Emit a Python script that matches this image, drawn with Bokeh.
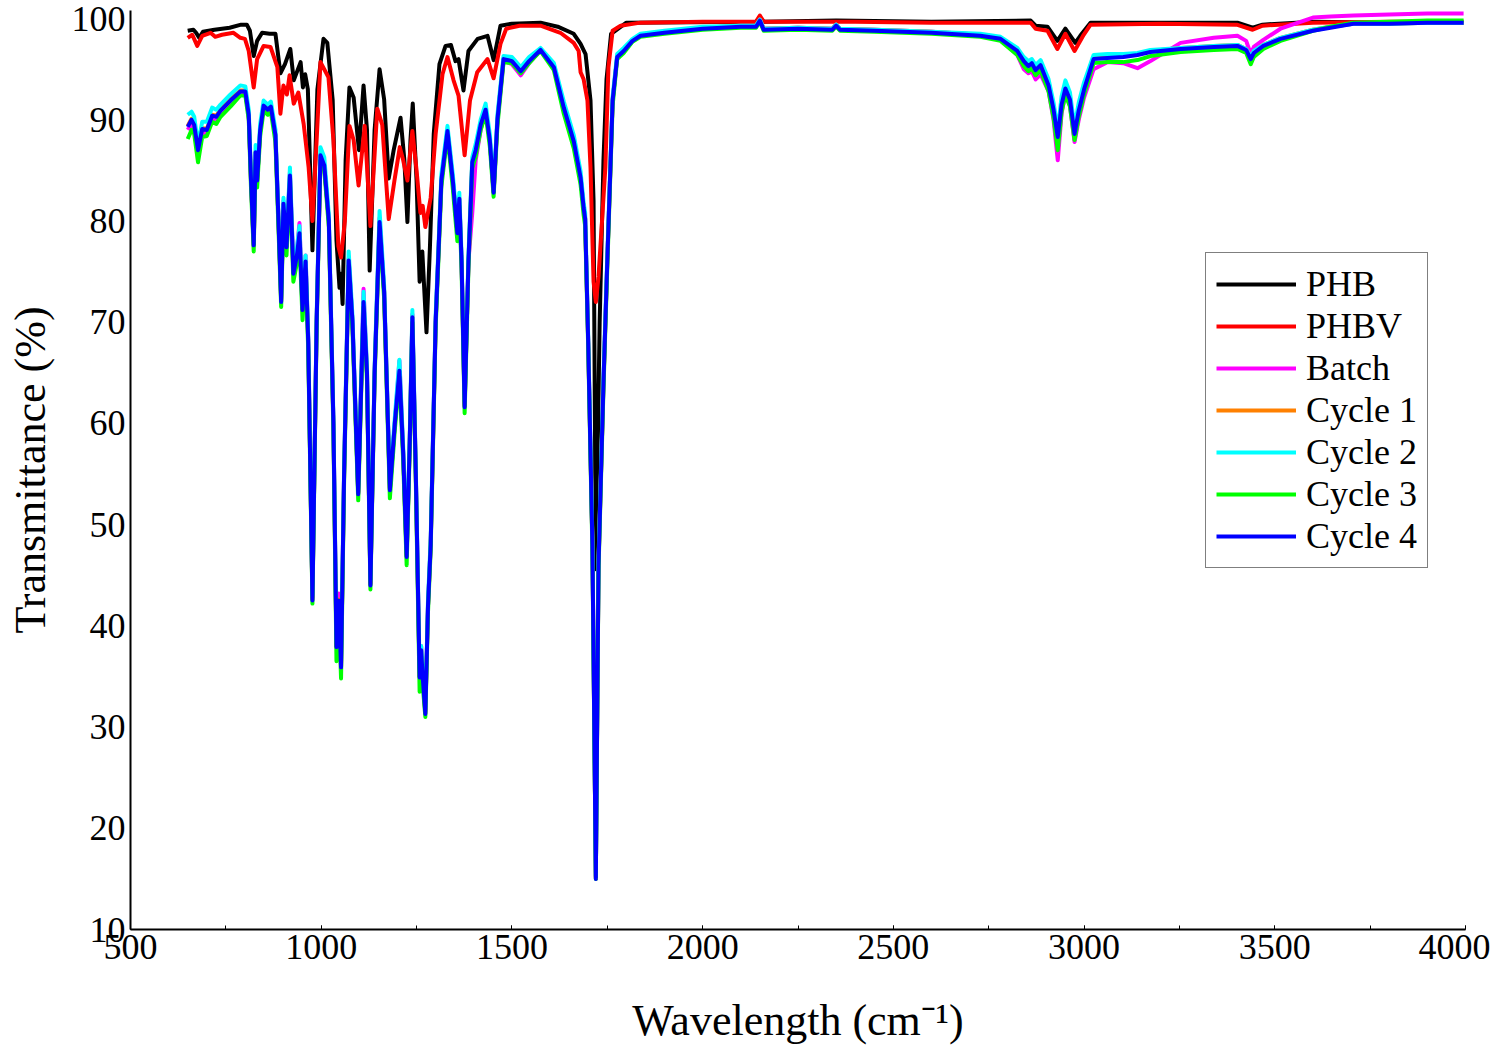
from bokeh.plotting import figure
from bokeh.models import Range1d, SingleIntervalTicker, Legend, LegendItem
from bokeh.embed import file_html
from bokeh.resources import INLINE

# ---------------- data ----------------
PHB_X = [650, 665, 672, 680, 690, 720, 760, 790, 805, 813,
         823, 832, 845, 865, 880, 893, 905, 919, 928, 946,
         952, 958, 965, 977, 990, 1006, 1016, 1030, 1040, 1048,
         1052, 1056, 1064, 1074, 1085, 1099, 1111, 1120, 1127, 1140,
         1153, 1165, 1177, 1190, 1208, 1218, 1226, 1234, 1240, 1250,
         1258, 1265, 1276, 1285, 1295, 1310, 1326, 1340, 1352, 1360,
         1373, 1386, 1410, 1436, 1452, 1470, 1500, 1575, 1620, 1662,
         1680, 1693, 1706, 1714, 1720, 1730, 1740, 1748, 1760, 1800,
         2140, 2150, 2160, 2350, 2600, 2860, 2873, 2904, 2930, 2951,
         2977, 2990, 3017, 3200, 3402, 3442, 3468, 3602, 3800, 3995]
PHB_Y = [98.8, 98.9, 98.6, 98.1, 98.7, 98.9, 99.1, 99.4, 99.4, 98.8,
         96.3, 97.8, 98.6, 98.5, 98.5, 94.6, 95.5, 97.0, 93.9, 95.7,
         93.2, 94.5, 93.0, 77.1, 93.0, 98.0, 97.6, 92.0, 78.1, 73.4,
         74.8, 71.8, 86.0, 93.2, 92.2, 87.0, 93.4, 89.0, 75.1, 89.0,
         95.0, 92.0, 84.2, 87.0, 90.2, 86.0, 79.9, 88.0, 91.6, 84.0,
         74.0, 77.0, 69.0, 77.4, 88.6, 95.5, 97.3, 97.4, 95.8, 96.0,
         92.9, 96.8, 98.0, 98.3, 95.9, 99.3, 99.5, 99.6, 99.2, 98.5,
         97.5, 96.5, 91.9, 82.0, 45.6, 70.0, 86.0, 94.0, 98.5, 99.6,
         99.7, 100.1, 99.7, 99.8, 99.7, 99.8, 99.3, 99.2, 97.8, 99.0,
         97.6, 98.3, 99.6, 99.6, 99.6, 99.1, 99.4, 99.7, 99.6, 99.6]

PHBV_X = [650, 662, 675, 688, 710, 722, 740, 770, 788, 800,
          810, 823, 832, 849, 867, 885, 893, 901, 910, 917,
          928, 940, 954, 967, 977, 988, 998, 1019, 1032, 1045,
          1052, 1062, 1074, 1085, 1098, 1114, 1129, 1147, 1160, 1177,
          1192, 1206, 1215, 1226, 1239, 1250, 1260, 1266, 1273, 1287,
          1300, 1318, 1331, 1347, 1360, 1376, 1390, 1409, 1436, 1452,
          1470, 1485, 1520, 1575, 1627, 1662, 1675, 1680, 1688, 1698,
          1706, 1714, 1720, 1727, 1745, 1753, 1764, 1785, 1837, 2000,
          2140, 2150, 2160, 2400, 2600, 2860, 2873, 2904, 2930, 2951,
          2975, 2999, 3017, 3200, 3400, 3442, 3468, 3600, 3800, 3995]
PHBV_Y = [98.1, 98.4, 97.3, 98.3, 98.6, 98.2, 98.4, 98.6, 98.1, 98.0,
          96.8, 93.2, 96.0, 97.3, 97.2, 95.2, 90.6, 93.4, 92.5, 94.4,
          91.6, 92.7, 89.6, 85.3, 80.0, 88.0, 95.7, 94.2, 88.0, 77.5,
          76.4, 80.0, 89.4, 88.0, 83.5, 89.4, 79.5, 91.1, 89.5, 80.2,
          84.0, 87.3, 86.0, 84.0, 88.9, 85.0, 80.8, 81.5, 79.4, 82.3,
          88.6, 94.5, 96.2, 93.9, 92.4, 86.5, 91.9, 94.7, 96.0, 94.1,
          97.5, 99.0, 99.3, 99.3, 98.6, 97.6, 96.8, 94.7, 94.0, 91.9,
          85.3, 74.0, 72.0, 74.5, 85.3, 95.2, 98.8, 99.3, 99.6, 99.7,
          99.7, 100.3, 99.7, 99.7, 99.6, 99.6, 99.0, 98.8, 97.0, 98.5,
          96.8, 98.4, 99.4, 99.5, 99.4, 98.9, 99.3, 99.6, 99.7, 99.7]

S_X = [650, 660, 667, 677, 688, 700, 714, 725, 736, 762,
       788, 801, 810, 816, 823, 828, 832, 840, 849, 860,
       868, 880, 888, 895, 901, 909, 918, 927, 936, 943,
       951, 959, 966, 977, 988, 998, 1008, 1020, 1032, 1040,
       1046, 1052, 1060, 1072, 1082, 1097, 1111, 1120, 1129, 1140,
       1153, 1165, 1180, 1193, 1205, 1215, 1224, 1232, 1239, 1248,
       1258, 1262, 1266, 1273, 1280, 1287, 1300, 1315, 1331, 1345,
       1357, 1362, 1368, 1376, 1386, 1396, 1405, 1418, 1431, 1442,
       1452, 1462, 1478, 1500, 1523, 1545, 1575, 1610, 1636, 1662,
       1680, 1688, 1692, 1700, 1711, 1720, 1727, 1740, 1750, 1764,
       1776, 1793, 1816, 1837, 1900, 2000, 2100, 2140, 2150, 2160,
       2250, 2340, 2350, 2360, 2450, 2600, 2728, 2781, 2825, 2842,
       2854, 2863, 2873, 2886, 2907, 2920, 2931, 2941, 2951, 2963,
       2975, 2986, 3000, 3025, 3061, 3103, 3140, 3174, 3253, 3340,
       3402, 3425, 3437, 3445, 3470, 3515, 3600, 3646, 3706, 3800,
       3900, 3995]

BATCH_Y = [89.0, 89.6, 89.2, 86.5, 88.7, 88.7, 90.0, 89.9, 90.5, 91.6,
           92.6, 92.7, 90.3, 83.8, 77.5, 86.8, 84.0, 89.0, 91.3, 90.9,
           91.2, 88.4, 80.0, 72.3, 82.0, 77.8, 84.8, 75.3, 77.0, 79.8,
           71.5, 76.6, 68.4, 42.8, 70.0, 86.3, 85.3, 80.0, 60.0, 38.0,
           43.2, 36.2, 55.0, 76.3, 70.0, 53.2, 73.3, 65.0, 44.2, 65.0,
           80.3, 73.0, 53.6, 60.0, 66.2, 57.0, 47.0, 58.0, 70.8, 55.0,
           35.0, 38.0, 35.2, 31.6, 42.0, 48.0, 70.0, 84.0, 88.8, 84.0,
           78.8, 82.2, 76.0, 61.8, 76.0, 80.8, 86.0, 89.0, 90.8, 88.0,
           82.8, 89.8, 95.8, 95.5, 94.4, 95.6, 96.9, 95.2, 91.2, 87.9,
           84.3, 81.3, 80.2, 68.0, 48.0, 15.2, 46.0, 64.0, 76.0, 91.9,
           96.2, 96.8, 97.9, 98.4, 98.7, 99.1, 99.3, 99.3, 99.9, 99.0,
           99.1, 99.0, 99.4, 99.0, 98.9, 98.7, 98.4, 98.0, 96.4, 95.0,
           94.6, 94.8, 94.0, 94.5, 92.8, 90.0, 86.0, 90.6, 92.6, 91.4,
           87.8, 90.0, 92.2, 95.0, 95.7, 95.6, 95.1, 95.8, 97.6, 98.1,
           98.3, 97.8, 96.5, 97.2, 97.9, 99.0, 100.1, 100.2, 100.3, 100.4,
           100.5, 100.5]

CYCLE1_Y = [89.4, 90.1, 89.6, 87.1, 89.2, 89.1, 90.5, 90.4, 91.0, 92.0,
            92.9, 92.9, 90.6, 84.1, 77.7, 86.9, 84.1, 89.1, 91.5, 91.1,
            91.4, 88.6, 80.1, 72.1, 81.8, 77.5, 84.6, 74.9, 76.6, 78.9,
            71.3, 76.1, 68.1, 42.6, 70.1, 86.6, 85.6, 80.1, 60.1, 38.0,
            42.6, 36.0, 55.1, 76.2, 70.1, 53.1, 72.1, 65.1, 44.1, 65.1,
            80.0, 73.1, 53.5, 60.1, 65.3, 57.1, 46.9, 58.1, 70.6, 55.1,
            35.0, 37.7, 35.1, 31.4, 42.1, 48.1, 70.1, 84.1, 89.0, 84.1,
            78.9, 82.3, 76.1, 61.7, 76.1, 85.9, 87.1, 89.6, 91.1, 88.1,
            82.9, 90.1, 96.1, 95.9, 94.9, 95.9, 97.0, 95.3, 91.3, 88.0,
            84.4, 81.4, 80.3, 68.1, 48.1, 15.1, 46.1, 64.1, 76.1, 92.0,
            96.3, 96.9, 97.9, 98.4, 98.7, 99.1, 99.3, 99.3, 99.9, 99.0,
            99.1, 99.0, 99.4, 99.0, 98.9, 98.7, 98.4, 98.1, 96.9, 95.9,
            95.4, 95.7, 95.0, 95.5, 93.5, 91.1, 88.4, 91.6, 93.2, 92.1,
            88.7, 91.0, 93.1, 96.1, 96.2, 96.3, 96.5, 96.8, 97.1, 97.3,
            97.4, 97.0, 96.1, 96.7, 97.4, 98.1, 98.9, 99.2, 99.5, 99.5,
            99.6, 99.6]

CYCLE2_Y = [90.5, 90.8, 90.3, 87.6, 89.8, 89.8, 91.2, 91.0, 91.5, 92.5,
            93.4, 93.3, 91.0, 84.5, 78.2, 87.5, 84.6, 89.6, 91.9, 91.5,
            91.8, 89.0, 80.5, 72.5, 82.3, 78.0, 85.3, 75.5, 77.2, 79.5,
            71.8, 76.6, 68.6, 43.0, 70.6, 87.3, 86.3, 80.6, 60.6, 38.5,
            41.5, 36.5, 55.6, 77.0, 70.6, 53.5, 73.0, 65.6, 44.5, 65.6,
            81.0, 73.6, 54.0, 60.6, 66.3, 57.6, 47.3, 58.6, 71.2, 55.6,
            35.5, 38.0, 35.6, 32.0, 42.6, 48.6, 70.6, 84.6, 89.4, 84.6,
            79.4, 82.8, 76.6, 62.2, 76.6, 86.3, 87.6, 90.0, 91.6, 88.6,
            83.3, 90.5, 96.3, 96.2, 95.2, 96.2, 97.1, 95.6, 91.8, 88.5,
            84.9, 81.8, 80.8, 68.6, 48.5, 15.3, 46.5, 64.6, 76.6, 92.3,
            96.5, 97.1, 98.0, 98.5, 98.8, 99.2, 99.3, 99.3, 99.9, 99.0,
            99.1, 99.0, 99.4, 99.0, 98.9, 98.7, 98.5, 98.2, 97.1, 96.2,
            95.8, 96.0, 95.4, 95.9, 94.0, 91.7, 89.0, 92.3, 93.9, 92.7,
            89.3, 91.7, 93.7, 96.4, 96.5, 96.5, 96.6, 96.9, 97.1, 97.3,
            97.4, 97.0, 96.2, 96.8, 97.4, 98.1, 98.9, 99.2, 99.5, 99.5,
            99.6, 99.6]

CYCLE3_Y = [88.1, 89.0, 88.6, 85.8, 88.3, 88.4, 89.8, 89.6, 90.3, 91.3,
            92.4, 92.4, 90.0, 83.2, 77.0, 86.0, 83.3, 88.4, 90.9, 90.5,
            90.8, 87.8, 79.2, 71.5, 81.0, 76.6, 83.8, 74.0, 75.8, 78.0,
            70.2, 75.3, 67.2, 42.2, 69.4, 86.0, 85.0, 79.4, 59.2, 36.5,
            41.8, 34.8, 54.2, 75.6, 69.2, 52.4, 71.5, 64.2, 43.6, 64.4,
            79.4, 72.3, 52.6, 59.4, 64.6, 56.2, 46.0, 57.3, 70.0, 54.2,
            33.5, 37.0, 34.2, 31.0, 41.4, 47.5, 69.4, 83.4, 88.5, 83.2,
            78.0, 81.5, 75.2, 61.0, 75.4, 85.2, 86.4, 89.0, 90.6, 87.4,
            82.4, 89.4, 95.7, 95.6, 94.6, 95.6, 96.8, 94.9, 90.6, 87.2,
            83.6, 80.6, 79.5, 67.4, 47.4, 15.0, 45.5, 63.4, 75.4, 91.4,
            96.0, 96.6, 97.7, 98.2, 98.5, 98.9, 99.1, 99.1, 99.7, 98.8,
            98.9, 98.8, 99.2, 98.8, 98.7, 98.5, 98.2, 97.8, 96.4, 95.3,
            94.8, 95.1, 94.4, 94.9, 92.8, 90.2, 87.0, 90.8, 92.5, 91.3,
            88.0, 90.3, 92.5, 95.6, 95.7, 95.7, 95.9, 96.3, 96.7, 96.9,
            97.0, 96.6, 95.5, 96.2, 97.0, 97.8, 98.8, 99.2, 99.6, 99.7,
            99.8, 99.8]

CYCLE4_Y = [89.3, 90.0, 89.5, 87.0, 89.1, 89.0, 90.4, 90.3, 90.9, 91.9,
            92.8, 92.8, 90.5, 84.0, 77.6, 86.8, 84.0, 89.0, 91.4, 91.0,
            91.3, 88.5, 80.0, 72.0, 81.7, 77.4, 84.5, 74.8, 76.5, 78.8,
            71.2, 76.0, 68.0, 42.5, 70.0, 86.5, 85.5, 80.0, 60.0, 37.9,
            42.5, 35.9, 55.0, 76.1, 70.0, 53.0, 72.0, 65.0, 44.0, 65.0,
            79.9, 73.0, 53.4, 60.0, 65.2, 57.0, 46.8, 58.0, 70.5, 55.0,
            34.9, 37.6, 35.0, 31.3, 42.0, 48.0, 70.0, 84.0, 88.9, 84.0,
            78.8, 82.2, 76.0, 61.6, 76.0, 85.8, 87.0, 89.5, 91.0, 88.0,
            82.8, 90.0, 96.0, 95.8, 94.8, 95.8, 96.9, 95.2, 91.2, 87.9,
            84.3, 81.3, 80.2, 68.0, 48.0, 15.0, 46.0, 64.0, 76.0, 91.9,
            96.2, 96.8, 97.8, 98.3, 98.6, 99.0, 99.2, 99.2, 99.8, 98.9,
            99.0, 98.9, 99.3, 98.9, 98.8, 98.6, 98.3, 98.0, 96.8, 95.8,
            95.3, 95.6, 94.9, 95.4, 93.4, 91.0, 88.3, 91.5, 93.1, 92.0,
            88.6, 90.9, 93.0, 96.0, 96.1, 96.2, 96.4, 96.7, 97.0, 97.2,
            97.3, 96.9, 96.0, 96.6, 97.3, 98.0, 98.8, 99.1, 99.5, 99.5,
            99.6, 99.6]

SERIES = [
    ("PHB", PHB_X, PHB_Y, "#000000"),
    ("PHBV", PHBV_X, PHBV_Y, "#ff0000"),
    ("Batch", S_X, BATCH_Y, "#ff00ff"),
    ("Cycle 1", S_X, CYCLE1_Y, "#ff8000"),
    ("Cycle 2", S_X, CYCLE2_Y, "#00ffff"),
    ("Cycle 3", S_X, CYCLE3_Y, "#00ff00"),
    ("Cycle 4", S_X, CYCLE4_Y, "#0000ff"),
]

X_TICK_STEP = 500
FONT = "Liberation Serif"

# ---------------- figure ----------------
p = figure(width=1490, height=1050, output_backend="svg", toolbar_location=None,
           x_range=Range1d(500, 4000), y_range=Range1d(10, 100.8),
           min_border_left=130, min_border_right=25, min_border_top=10,
           min_border_bottom=121)
p.outline_line_color = None
p.xgrid.visible = False
p.ygrid.visible = False
p.background_fill_color = "white"

items = []
for name, xs, ys, col in SERIES:
    assert len(xs) == len(ys), name
    r = p.line(xs, ys, line_color=col, line_width=4, line_join="round")
    items.append(LegendItem(label=name, renderers=[r]))

legend = Legend(items=items, location=(1075, 361))
legend.label_text_font = FONT
legend.label_text_font_size = "36px"
legend.label_text_color = "black"
legend.glyph_width = 80
legend.glyph_height = 42
legend.label_height = 42
legend.spacing = 0
legend.padding = 10
legend.margin = 0
legend.label_standoff = 10
legend.border_line_color = "black"
legend.border_line_width = 1
legend.background_fill_alpha = 1.0
p.add_layout(legend, "center")

p.xaxis.ticker = SingleIntervalTicker(interval=X_TICK_STEP, num_minor_ticks=2)
p.yaxis.ticker = SingleIntervalTicker(interval=10, num_minor_ticks=0)

for ax in (p.xaxis[0], p.yaxis[0]):
    ax.axis_line_color = "black"
    ax.axis_line_width = 2
    ax.major_label_text_font = FONT
    ax.major_label_text_font_size = "36px"
    ax.major_label_text_color = "black"
    ax.axis_label_text_font = FONT
    ax.axis_label_text_font_size = "44px"
    ax.axis_label_text_font_style = "normal"
    ax.axis_label_text_color = "black"

p.xaxis.major_tick_in = 4
p.xaxis.major_tick_out = 0
p.xaxis.minor_tick_in = 4
p.xaxis.minor_tick_out = 0
p.xaxis.major_tick_line_color = "black"
p.xaxis.minor_tick_line_color = "black"
p.xaxis.major_label_standoff = 5
p.xaxis.axis_label = "Wavelength (cm\u207b\u00b9)"
p.xaxis.axis_label_standoff = 34

p.yaxis.major_tick_in = 0
p.yaxis.major_tick_out = 0
p.yaxis.minor_tick_in = 0
p.yaxis.minor_tick_out = 0
p.yaxis.major_label_standoff = 5
p.yaxis.axis_label = "Transmittance (%)"
p.yaxis.axis_label_standoff = 14

open("out.html", "w").write(file_html(p, INLINE))
